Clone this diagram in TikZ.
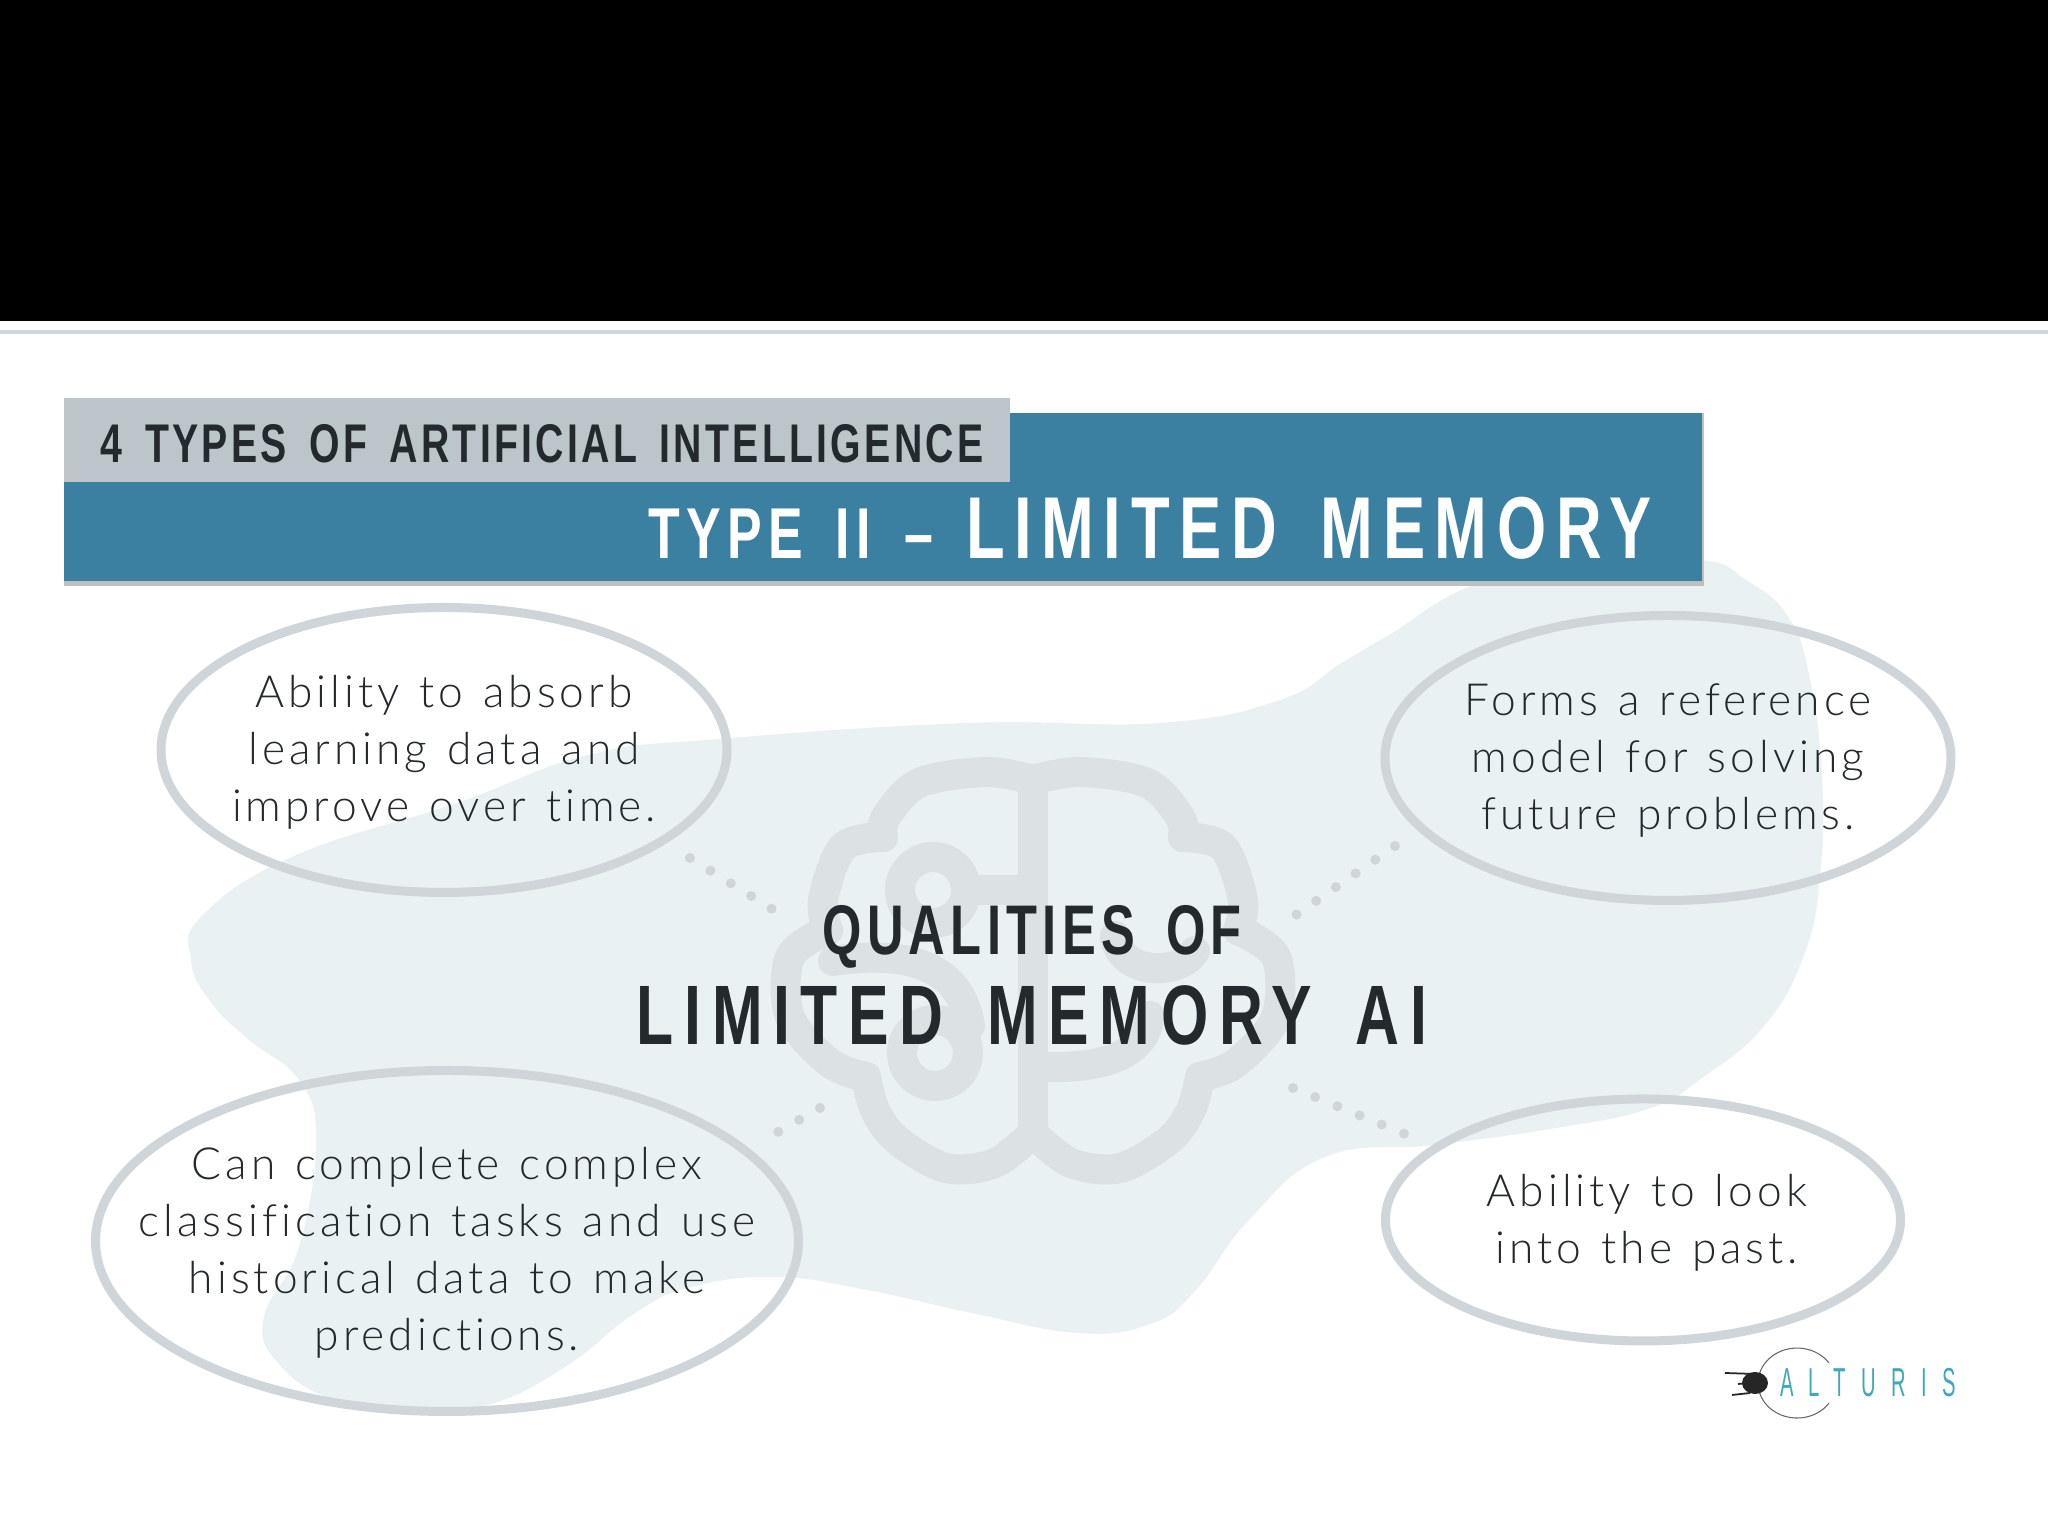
\documentclass[tikz,border=0pt]{standalone}
\usepackage{fontspec}
\setmainfont[Ligatures=NoCommon,WordSpace=1.25]{Lato Light}
\newfontfamily\headfont[FakeStretch=0.72,WordSpace=1.6]{Liberation Sans Bold}
\newfontfamily\logofont[FakeStretch=0.5,LetterSpace=38]{Liberation Sans}
\usetikzlibrary{shapes.geometric}
\definecolor{barblue}{HTML}{3B80A0}
\definecolor{bargray}{HTML}{BCC6CA}
\definecolor{blobtint}{HTML}{E9F1F3}
\definecolor{braintint}{HTML}{DCE2E4}
\definecolor{ringgray}{HTML}{CFD5D8}
\definecolor{inkdark}{HTML}{23292D}
\definecolor{logoteal}{HTML}{3FA9B5}
\tikzset{
  bubble/.style={ellipse, draw=ringgray, line width=0.09cm, inner sep=0pt},
  bubbletext/.style={inner sep=0pt, align=center, text=inkdark, yshift=-0.025cm, font=\fontsize{12.6}{16.2}\selectfont\addfontfeatures{LetterSpace=9}},
  dotlink/.style={draw=ringgray, line width=0.1cm, line cap=round, dash pattern=on 0pt off 0.24cm},
  brainline/.style={draw=braintint, line width=0.3cm, line cap=round, line join=round},
  headbar/.style={rectangle, inner sep=0pt, align=center}
}
\begin{document}
\begin{tikzpicture}
  \useasboundingbox (0,0) rectangle (20.48,15.36);
  \fill[white] (0,0) rectangle (20.48,15.36);
  \node[headbar, fill=black, minimum width=20.48cm, minimum height=3.21cm] (topband) at (10.24,13.755) {};
  \node[headbar, fill=ringgray, minimum width=20.48cm, minimum height=0.04cm] (topline) at (10.24,12.04) {};

  % backdrop
  \fill[blobtint] plot[smooth cycle, tension=0.75] coordinates {(17.02,9.76) (17.46,9.56) (17.87,9.21) (18.09,8.62) (18.22,7.59) (18.20,6.60) (18.04,5.81) (17.64,5.10) (17.02,4.58) (16.48,4.27) (15.50,4.07) (14.34,3.91) (13.25,3.79) (12.49,3.16) (11.95,2.45) (11.50,2.12) (10.78,2.03) (9.72,2.23) (8.67,2.46) (7.76,2.59) (6.92,2.49) (6.35,2.23) (5.65,1.69) (4.88,1.31) (4.11,1.24) (3.34,1.36) (2.78,1.73) (2.64,2.19) (2.99,2.89) (3.16,3.96) (2.99,4.56) (2.49,4.96) (2.10,5.35) (1.91,5.76) (2.02,6.20) (2.94,6.80) (4.57,7.33) (5.88,7.81) (7.19,7.97) (9.68,8.13) (11.60,8.13) (12.80,8.36) (13.40,8.72) (13.89,9.01) (14.79,9.53) (16.00,9.75)};

  % brain
  \foreach \side in {1,-1} {
    \begin{scope}[shift={(10.33,0)}, xscale=\side]
      \draw[brainline] plot[smooth, tension=0.55] coordinates {(0,7.56) (0.47,7.64) (1.14,7.53) (1.47,7.19) (1.50,6.99)};
      \draw[brainline] plot[smooth, tension=0.55] coordinates {(1.50,6.99) (1.90,6.89) (2.10,6.36) (2.05,6.06)};
      \draw[brainline] plot[smooth, tension=0.55] coordinates {(2.05,6.06) (2.43,5.79) (2.43,5.19) (2.03,4.73) (1.67,4.59)};
      \draw[brainline] plot[smooth, tension=0.55] coordinates {(1.67,4.59) (1.58,4.26) (1.36,3.96) (0.87,3.68) (0.38,3.73) (0,4.03)};
    \end{scope}
  }
  \draw[brainline] (10.33,7.56) -- (10.33,4.03);
  \draw[brainline] (9.33,6.46) circle (0.33);
  \draw[brainline] (9.66,6.46) -- (10.33,6.46);
  \draw[brainline] (9.35,4.83) circle (0.33);
  \draw[brainline] (8.33,5.75) .. controls (9.0,5.85) and (9.6,5.75) .. (9.7,5.1);
  \draw[brainline] (10.33,4.7) .. controls (11.0,4.65) and (11.45,4.8) .. (11.5,5.2);
  \draw[brainline] (11.15,6.0) .. controls (11.2,5.6) and (11.8,5.6) .. (11.95,5.85);

  \coordinate (dotA) at (6.90,6.78);
  \coordinate (dotB) at (7.80,6.22);
  \coordinate (dotC) at (13.95,6.90);
  \coordinate (dotD) at (12.93,6.19);
  \coordinate (dotE) at (8.20,4.28);
  \coordinate (dotF) at (7.71,4.00);
  \coordinate (dotG) at (12.93,4.48);
  \coordinate (dotH) at (14.17,3.97);
  \draw[dotlink] (dotA) -- (dotB);
  \draw[dotlink] (dotC) -- (dotD);
  \draw[dotlink] (dotE) -- (dotF);
  \draw[dotlink] (dotG) -- (dotH);

  % header
  \fill[black!25] (0.64,9.50) rectangle (17.04,11.23);
  \node[headbar, fill=barblue, minimum width=16.38cm, minimum height=1.68cm] (bluebar) at (8.83,10.39) {};
  \node[headbar, fill=bargray, minimum width=9.46cm, minimum height=0.84cm] (typesbar) at (5.37,10.96) {};
  \node[inner sep=0pt, text=inkdark, font=\headfont\fontsize{15.5}{18}\selectfont\addfontfeatures{LetterSpace=6}] (typeslabel) at (5.42,10.92) {4 TYPES OF ARTIFICIAL INTELLIGENCE};
  \node[anchor=base east, inner sep=0pt, text=white] (typetwo) at (16.52,9.77) {\headfont\fontsize{20.5}{24}\selectfont\addfontfeatures{LetterSpace=8.7}TYPE II – \fontsize{25}{30}\selectfont\addfontfeatures{LetterSpace=11}LIMITED MEMORY};

  % qualities
  \node[bubble, minimum width=5.66cm, minimum height=2.85cm, label={[bubbletext]center:Ability to absorb\\learning data and\\improve over time.}] (absorb) at (4.44,7.86) {};
  \node[bubble, minimum width=5.66cm, minimum height=2.85cm, label={[bubbletext]center:Forms a reference\\model for solving\\future problems.}] (reference) at (16.68,7.78) {};
  \node[bubble, minimum width=7.03cm, minimum height=3.41cm, label={[bubbletext, yshift=-0.09cm]center:Can complete complex\\classification tasks and use\\historical data to make\\predictions.}] (classify) at (4.47,2.95) {};
  \node[bubble, minimum width=5.15cm, minimum height=2.42cm, label={[bubbletext, xshift=0.04cm]center:Ability to look\\into the past.}] (past) at (16.43,3.16) {};

  \node[inner sep=0pt, text=inkdark, font=\headfont\fontsize{20}{24}\selectfont\addfontfeatures{LetterSpace=7.6}] (qualities) at (10.32,5.99) {QUALITIES OF};
  \node[inner sep=0pt, text=inkdark, font=\headfont\fontsize{24}{28}\selectfont\addfontfeatures{LetterSpace=12.6}] (limited) at (10.32,5.21) {LIMITED MEMORY AI};

  % logo
  \draw[black!60, line width=0.3pt] (18.29,1.73) arc[start angle=35, end angle=325, x radius=0.39, y radius=0.35];
  \fill[black!85] (17.55,1.53) ellipse (0.13 and 0.11);
  \draw[black!85, line width=0.5pt] (17.25,1.63) -- (17.55,1.62) (17.32,1.41) -- (17.5,1.43) (17.38,1.52) -- (17.5,1.53);
  \node[inner sep=0pt, text=logoteal, font=\logofont\fontsize{11.5}{14}\selectfont] (logo) at (18.68,1.53) {ALTURIS};
\end{tikzpicture}
\end{document}
